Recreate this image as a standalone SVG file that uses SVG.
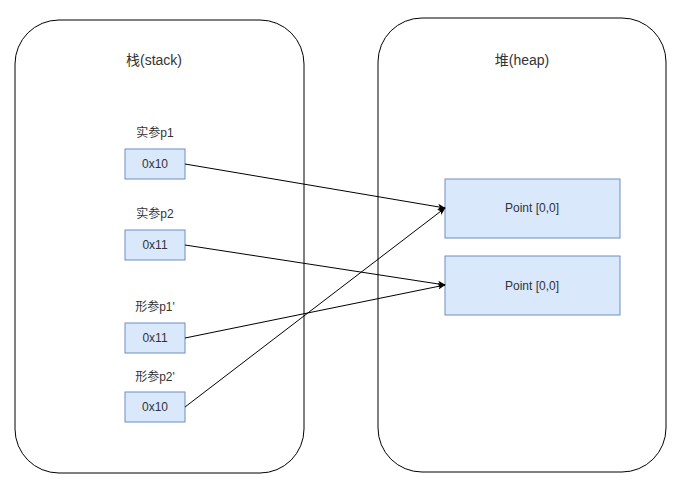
<svg xmlns="http://www.w3.org/2000/svg" width="676" height="493" viewBox="0 0 676 493">
<style>
.cont{fill:#fff;stroke:#000;stroke-width:1}
.box{fill:#dae8fc;stroke:#6c8ebf;stroke-width:1}
.t{font-family:"Liberation Sans","Noto Sans CJK SC",sans-serif;font-size:12px;fill:#333;text-anchor:middle;dominant-baseline:central}
.title{font-size:14px}
.conn{stroke:#000;stroke-width:1;fill:none;marker-end:url(#arr)}
</style>
<defs>
<marker id="arr" viewBox="0 0 10 10" refX="9" refY="5" markerWidth="8" markerHeight="8" orient="auto" markerUnits="userSpaceOnUse">
<path d="M0,1 L10,5 L0,9 L2.5,5 Z" fill="#000"/>
</marker>
</defs>
<rect width="676" height="493" fill="#fff"/>
<g id="stack">
<rect class="cont" x="15" y="20" width="289" height="453" rx="44" ry="44"/>
<text class="t title" x="154" y="60">栈(stack)</text>
</g>
<g id="heap">
<rect class="cont" x="378" y="18" width="288" height="454" rx="44" ry="44"/>
<text class="t title" x="522" y="60">堆(heap)</text>
</g>
<g id="p1">
<text class="t" x="155" y="133">实参p1</text>
<rect class="box" x="125" y="149" width="60" height="30"/>
<text class="t" x="155" y="164">0x10</text>
</g>
<g id="p2">
<text class="t" x="155" y="214">实参p2</text>
<rect class="box" x="125" y="230" width="60" height="30"/>
<text class="t" x="155" y="245">0x11</text>
</g>
<g id="fp1">
<text class="t" x="155" y="307">形参p1'</text>
<rect class="box" x="125" y="323" width="60" height="30"/>
<text class="t" x="155" y="338">0x11</text>
</g>
<g id="fp2">
<text class="t" x="155" y="377">形参p2'</text>
<rect class="box" x="125" y="392" width="60" height="30"/>
<text class="t" x="155" y="407">0x10</text>
</g>
<g id="pointA">
<rect class="box" x="445" y="179" width="175" height="59"/>
<text class="t" x="532" y="208">Point [0,0]</text>
</g>
<g id="pointB">
<rect class="box" x="445" y="256" width="175" height="59"/>
<text class="t" x="532" y="286">Point [0,0]</text>
</g>
<g id="connectors">
<line class="conn" x1="185" y1="164" x2="445" y2="208"/>
<line class="conn" x1="185" y1="245" x2="445" y2="285"/>
<line class="conn" x1="185" y1="338" x2="445" y2="285"/>
<line class="conn" x1="185" y1="407" x2="445" y2="208"/>
</g>
</svg>
